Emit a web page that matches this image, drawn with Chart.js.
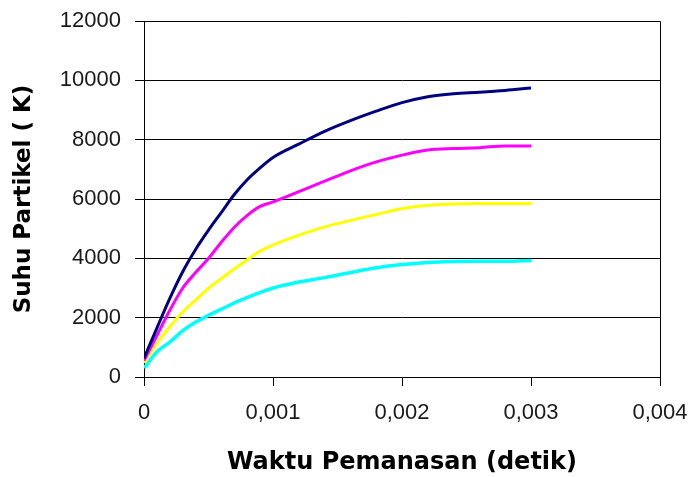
<!DOCTYPE html>
<html>
<head>
<meta charset="utf-8">
<title>Suhu Partikel vs Waktu Pemanasan</title>
<script src="https://cdn.jsdelivr.net/npm/chart.js@4.4.1/dist/chart.umd.min.js"></script>
<style>
  html, body { margin: 0; padding: 0; background: #fff; }
  #wrap { width: 691px; height: 477px; }
</style>
</head>
<body>
<div id="wrap"><canvas id="chartSuhu" width="691" height="477"></canvas></div>
<script>
// Heating time (s) shared by all four curves
const waktu = [0, 0.0001, 0.0002, 0.0003, 0.0004, 0.0005, 0.0006, 0.0007, 0.0008, 0.0009,
  0.001, 0.0012, 0.0014, 0.0016, 0.0018, 0.002, 0.0022, 0.0024, 0.0026, 0.0028, 0.003];

// Particle temperature (K)
const suhuNavy = [630, 1650, 2650, 3550, 4300, 4950, 5550, 6150, 6650, 7050,
  7400, 7850, 8280, 8640, 8960, 9250, 9450, 9550, 9600, 9660, 9740];
const suhuMagenta = [550, 1400, 2250, 3000, 3520, 4000, 4550, 5050, 5450, 5750,
  5900, 6250, 6600, 6950, 7250, 7480, 7650, 7700, 7730, 7790, 7790];
const suhuKuning = [480, 1150, 1700, 2200, 2600, 3000, 3330, 3650, 3950, 4250,
  4450, 4780, 5060, 5280, 5480, 5680, 5790, 5830, 5850, 5850, 5850];
const suhuCyan = [300, 850, 1180, 1560, 1850, 2080, 2290, 2500, 2680, 2850,
  3000, 3200, 3350, 3520, 3680, 3790, 3860, 3890, 3900, 3900, 3930];

const xTicks = [0, 0.001, 0.002, 0.003, 0.004];
const yTicks = [0, 2000, 4000, 6000, 8000, 10000, 12000];

const FONT = "'Liberation Sans', Arial, sans-serif";
const TITLE_FONT = "'DejaVu Sans', Arial, sans-serif";

function toPoints(ys) {
  return waktu.map((x, i) => ({ x, y: ys[i] }));
}

function line(data, color, width) {
  return {
    data: toPoints(data),
    borderColor: color,
    backgroundColor: color,
    borderWidth: width,
    pointRadius: 0,
    showLine: true,
    cubicInterpolationMode: "monotone",
  };
}

// box around the plot area (right edge + top edge)
const plotFrame = {
  id: "plotFrame",
  afterDatasetsDraw(chart) {
    const { ctx, chartArea: a } = chart;
    ctx.save();
    ctx.strokeStyle = "#000";
    ctx.lineWidth = 1;
    ctx.beginPath();
    ctx.moveTo(a.left, a.top + 0.5);
    ctx.lineTo(a.right + 0.5, a.top + 0.5);
    ctx.lineTo(a.right + 0.5, a.bottom);
    ctx.stroke();
    ctx.restore();
  },
};

new Chart(document.getElementById("chartSuhu"), {
  type: "scatter",
  data: {
    datasets: [
      line(suhuNavy, "#000080", 3),
      line(suhuMagenta, "#ff00ff", 3),
      line(suhuKuning, "#ffff00", 3),
      line(suhuCyan, "#00ffff", 3.5),
    ],
  },
  options: {
    responsive: false,
    animation: false,
    layout: { padding: { top: 21, right: 31, left: 0, bottom: 0 } },
    plugins: { legend: { display: false }, tooltip: { enabled: false } },
    scales: {
      x: {
        type: "linear",
        min: 0,
        max: 0.004,
        afterBuildTicks: (s) => { s.ticks = xTicks.map((v) => ({ value: v })); },
        afterFit: (s) => {
          s.height = 100;
          s.paddingLeft = 0;
          s.paddingRight = 0;
        },
        ticks: {
          color: "#1a1a1a",
          font: { family: FONT, size: 22 },
          padding: 14,
          maxRotation: 0,
          callback: (v) => (v === 0 ? "0" : v.toFixed(3).replace(".", ",")),
        },
        grid: { drawOnChartArea: false, drawTicks: true, tickLength: 9, color: "#000" },
        border: { color: "#000", width: 1 },
        title: {
          display: true,
          text: "Waktu Pemanasan (detik)",
          color: "#000",
          font: { family: TITLE_FONT, size: 24, weight: "bold" },
          padding: { top: 0, bottom: 0 },
        },
      },
      y: {
        min: 0,
        max: 12000,
        afterBuildTicks: (s) => { s.ticks = yTicks.map((v) => ({ value: v })); },
        afterFit: (s) => {
          s.width = 144;
          s.paddingTop = 0;
          s.paddingBottom = 0;
        },
        ticks: {
          color: "#1a1a1a",
          font: { family: FONT, size: 22 },
          padding: 14,
          callback: (v) => String(v),
        },
        grid: { color: "#000", tickLength: 9, lineWidth: 1 },
        border: { color: "#000", width: 1 },
        title: {
          display: true,
          text: "Suhu Partikel ( K)",
          color: "#000",
          font: { family: TITLE_FONT, size: 23, weight: "bold" },
          padding: { top: 10, bottom: 0 },
        },
      },
    },
  },
  plugins: [plotFrame],
});
</script>
</body>
</html>
